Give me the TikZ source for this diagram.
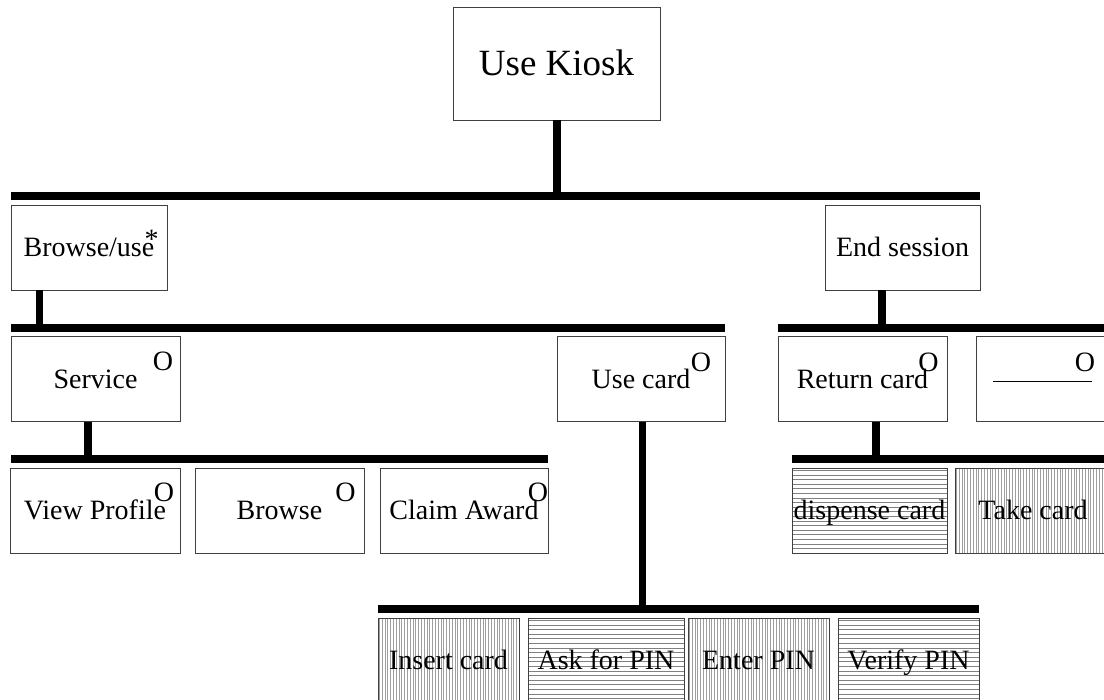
\documentclass[tikz,border=0pt]{standalone}
\usepackage{fontspec}
\setmainfont{Liberation Serif}
\tikzset{
  box/.style={draw=black!75, line width=0.9pt, inner sep=0pt, minimum height=85pt,
    text height=18.5pt, text depth=0pt, font=\fontsize{28}{32}\selectfont, anchor=center},
  bigbox/.style={box, minimum height=113pt, text height=24.5pt, font=\fontsize{37}{42}\selectfont},
  bar/.style={line width=7.5pt},
  stem/.style={line width=7.5pt},
  optmark/.style={font=\fontsize{28}{32}\selectfont, inner sep=0pt, anchor=base},
  hatchline/.style={line width=0.7pt, draw=black!50},
  vfill/.style={path picture={
      \foreach \k in {1.4,4.2,...,170}
        \draw[hatchline, draw=black!38] ([xshift=\k pt]path picture bounding box.north west)
          -- ([xshift=\k pt]path picture bounding box.south west);}},
  hfill/.style={path picture={
      \foreach \k in {2.3,6.9,...,90}
        \draw[hatchline] ([yshift=-\k pt]path picture bounding box.north west)
          -- ([yshift=-\k pt]path picture bounding box.north east);}},
}
\begin{document}
\begin{tikzpicture}[x=1pt,y=-1pt]
\clip (0,0) rectangle (1104,700);
\fill[white] (0,0) rectangle (1104,700);

% boxes
\node[bigbox, minimum width=207pt] (kiosk) at (556.5,63.5) {Use Kiosk};
\node[box, minimum width=156pt] (bu) at (89,247.5) {Browse/use};
\node[box, minimum width=155pt] (es) at (902.5,247.5) {End session};
\node[box, minimum width=169pt] (svc) at (95.5,379) {Service};
\node[box, minimum width=168pt] (uc) at (641,379) {Use card};
\node[box, minimum width=169pt] (rc) at (862.5,379) {Return card};
\node[box, minimum width=133pt] (blank) at (1042.5,379) {\rule[6pt]{99pt}{0.9pt}};
\node[box, minimum width=170pt] (vp) at (95,510.5) {View Profile};
\node[box, minimum width=169pt] (br) at (279.5,510.5) {Browse};
\node[box, minimum width=168pt] (ca) at (464,510.5) {Claim Award};
\node[box, hfill, minimum width=155pt] (dc) at (869.5,510.5) {dispense card};
\node[box, vfill, minimum width=156pt] (tc) at (1033,510.5) {Take card};
\node[box, vfill, minimum width=141pt] (ic) at (448.5,660.5) {Insert card};
\node[box, hfill, minimum width=156pt] (ap) at (606,660.5) {Ask for PIN};
\node[box, vfill, minimum width=141pt] (ep) at (758.5,660.5) {Enter PIN};
\node[box, hfill, minimum width=141pt] (vpin) at (908.5,660.5) {Verify PIN};

% marks
\node[optmark] (buS) at (151.5,249) {*};
\node[optmark] (svcO) at (163,370.5) {O};
\node[optmark] (ucO) at (701,371.5) {O};
\node[optmark] (rcO) at (928.5,371.5) {O};
\node[optmark] (blankO) at (1085,371.5) {O};
\node[optmark] (vpO) at (164,502) {O};
\node[optmark] (brO) at (345.5,502) {O};
\node[optmark] (caO) at (538,502) {O};

% bars
\coordinate (b1l) at (11,196);  \coordinate (b1r) at (980,196);
\coordinate (b2l) at (11,328);  \coordinate (b2r) at (725,328);
\coordinate (b3l) at (778,328); \coordinate (b3r) at (1110,328);
\coordinate (b4l) at (11,459);  \coordinate (b4r) at (548,459);
\coordinate (b5l) at (792,459); \coordinate (b5r) at (1110,459);
\coordinate (b6l) at (378,609); \coordinate (b6r) at (979,609);
\foreach \i in {1,...,6} \draw[bar] (b\i l) -- (b\i r);

% stems
\coordinate (j1) at (557,196);
\coordinate (j2) at (39.5,328);
\coordinate (j3) at (882,328);
\coordinate (j4) at (88,459);
\coordinate (j5) at (876,459);
\coordinate (j6) at (642.5,609);
\draw[stem] (kiosk.south -| j1) -- (j1);
\draw[stem] (bu.south -| j2) -- (j2);
\draw[stem] (es.south -| j3) -- (j3);
\draw[stem] (svc.south -| j4) -- (j4);
\draw[stem] (rc.south -| j5) -- (j5);
\draw[stem] (uc.south -| j6) -- (j6);
\end{tikzpicture}
\end{document}
